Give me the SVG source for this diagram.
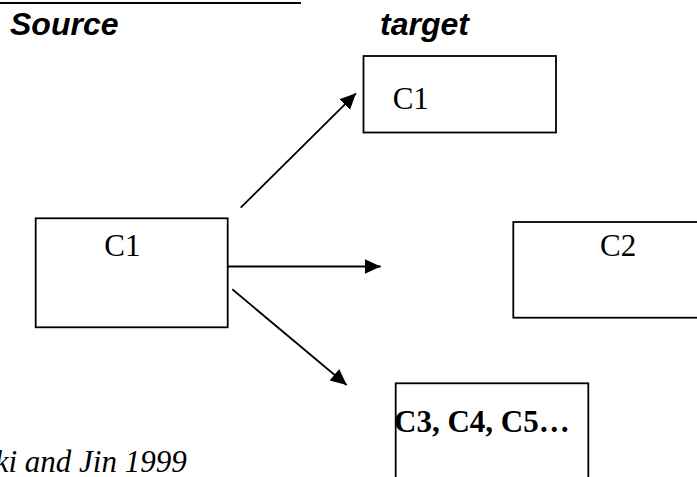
<svg xmlns="http://www.w3.org/2000/svg" width="697" height="477" viewBox="0 0 697 477">
  <defs>
    <style>
      .box { fill: #ffffff; stroke: #000000; stroke-width: 1.8; }
      .lbl { font-family: "Liberation Serif", "Times New Roman", serif; font-size: 31px; fill: #000000; }
      .bold { font-weight: bold; }
      .head { font-family: "Liberation Sans", Arial, sans-serif; font-size: 32px; font-weight: bold; font-style: italic; fill: #000000; }
      .conn { stroke: #000000; stroke-width: 1.8; fill: none; marker-end: url(#arrow); }
    </style>
    <marker id="arrow" markerUnits="userSpaceOnUse" markerWidth="17" markerHeight="16" refX="16" refY="7.5" orient="auto">
      <path d="M0,0 L16,7.5 L0,15 z" fill="#000000"/>
    </marker>
  </defs>
  <rect width="697" height="477" fill="#ffffff"/>

  <line x1="0" y1="3" x2="301" y2="3" stroke="#000000" stroke-width="2"/>

  <text class="head" x="10" y="35">Source</text>
  <text class="head" x="380" y="35">target</text>

  <g id="source-c1">
    <rect class="box" x="35.7" y="218.3" width="192" height="109"/>
    <text class="lbl" x="104.3" y="255.7">C1</text>
  </g>

  <g id="target-c1">
    <rect class="box" x="363.5" y="56" width="192.5" height="76.5"/>
    <text class="lbl" x="392.7" y="109">C1</text>
  </g>

  <g id="target-c2">
    <rect class="box" x="513.3" y="222" width="200" height="95.7"/>
    <text class="lbl" x="600" y="256">C2</text>
  </g>

  <g id="target-c3">
    <rect class="box" x="395.7" y="383.3" width="192.6" height="110"/>
    <text class="lbl bold" x="394" y="431.7">C3, C4, C5…</text>
  </g>

  <g id="connectors">
    <line class="conn" x1="240.7" y1="207.7" x2="356" y2="93.3"/>
    <line class="conn" x1="227.7" y1="266.5" x2="380.7" y2="266.5"/>
    <line class="conn" x1="232.3" y1="289.3" x2="346.7" y2="385"/>
  </g>

  <text class="lbl" font-style="italic" x="186.7" y="471.7" text-anchor="end">ki and Jin 1999</text>
</svg>
